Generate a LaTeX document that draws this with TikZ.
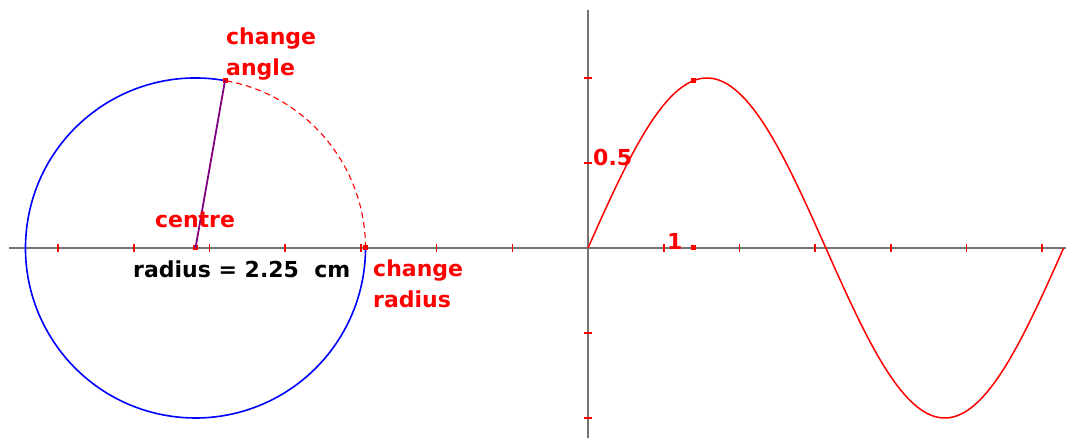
\documentclass[tikz,border=0pt]{standalone}
\usepackage{fontspec}
\setmainfont{DejaVu Sans}
\usetikzlibrary{calc}
\definecolor{purp}{RGB}{128,0,128}
\begin{document}
\begin{tikzpicture}[x=1pt,y=1pt,
  axis/.style={draw=gray!90!black,line width=1.6pt},
  tick/.style={draw=red,line width=1.6pt},
  dot/.style={fill=red,inner sep=0pt,minimum size=5pt,rectangle},
  lbl/.style={text=red,font=\fontsize{22}{31}\selectfont\bfseries,inner sep=0pt},
  blk/.style={text=black,font=\fontsize{22}{31}\selectfont\bfseries,inner sep=0pt}]
\useasboundingbox (0,0) rectangle (1066,438);
% axes
\coordinate (xl) at (9,190);
\coordinate (xr) at (1066,190);
\coordinate (yb) at (588,0);
\coordinate (yt) at (588,428);
\draw[axis] (xl) -- (xr);
\draw[axis] (yb) -- (yt);
% x ticks
\foreach \k in {-7,-6,-5,-4,-3,-2,-1,1,2,3,4,5,6}
  \draw[tick] ({588+75.7*\k},186) -- ({588+75.7*\k},194);
% y ticks
\foreach \v in {20,105,275,360}
  \draw[tick] (584,\v) -- (592,\v);
% circle
\coordinate (C) at (195.5,190);
\coordinate (A) at ($(C)+(80:170)$);
\draw[blue,line width=1.6pt] (A) arc[start angle=80,end angle=360,radius=170];
\draw[red,line width=1.1pt,dash pattern=on 6pt off 4pt] (365.5,190) arc[start angle=0,end angle=80,radius=170];
% sine curve
\draw[red,line width=1.5pt] plot[domain=0:6.2832,samples=150] ({588+75.7*\x},{190+170*sin(\x r)});
% points
\node[dot] (centre) at (C) {};
\node[dot] (rad) at (365.5,190) {};
\node[dot] (ang) at (A) {};
\node[dot] (sinpt) at ({588+75.7*1.3963},{190+170*sin(80)}) {};
\node[dot] (xpt) at ({588+75.7*1.3963},190) {};
\draw[purp,line width=1.8pt] (centre.center) -- (ang.center);
% labels
\node[lbl,anchor=base west,align=left] (angL) at (226,362) {change\\angle};
\node[lbl,anchor=base] (centreL) at (195,210) {centre};
\node[blk,anchor=base west] (radL) at (133,160) {radius = 2.25\ \ cm};
\node[lbl,anchor=base west,align=left] (radC) at (373,130) {change\\radius};
\node[lbl,anchor=base west] (half) at (593,272) {0.5};
\node[lbl,anchor=base west] (one) at (667,188) {1};
\end{tikzpicture}
\end{document}
